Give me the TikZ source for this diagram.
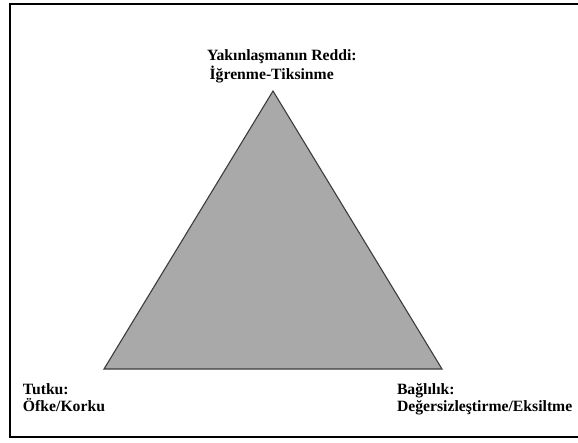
\documentclass[tikz,border=0pt]{standalone}
\usepackage{fontspec}
\setmainfont{Liberation Serif}
\definecolor{trifill}{HTML}{A9A9A9}
\definecolor{triedge}{HTML}{3C3C3C}
\tikzset{
  frameline/.style={line width=2pt, black},
  tri/.style={fill=trifill, draw=triedge, line width=1.1pt, line join=miter},
  % multi-line labels: the base anchor sits on the last line's baseline
  lbl/.style={anchor=base west, inner sep=0pt, outer sep=0pt, align=left,
    font=\bfseries\fontsize{15.7}{17}\selectfont}
}
\begin{document}
\begin{tikzpicture}[x=1pt, y=-1pt]
  \useasboundingbox (0,0) rectangle (578,443);
  % open frame (right side runs off the page)
  \draw[frameline] (578,4) -- (10,4) -- (10,437) -- (578,437);
  % triangle corners
  \coordinate (apex) at (273,91);
  \coordinate (bl) at (104,369);
  \coordinate (br) at (442,369);
  \draw[tri] (apex) -- (bl) -- (br) -- cycle;
  % corner labels
  \node[lbl, font=\bfseries\fontsize{15.7}{19}\selectfont] (top) at (207,80) {Yakınlaşmanın Reddi:\\\,İğrenme-Tiksinme};
  \node[lbl] (left) at (23,411) {Tutku:\\Öfke/Korku};
  \node[lbl] (right) at (397,411) {Bağlılık:\\Değersizleştirme/Eksiltme};
\end{tikzpicture}
\end{document}
